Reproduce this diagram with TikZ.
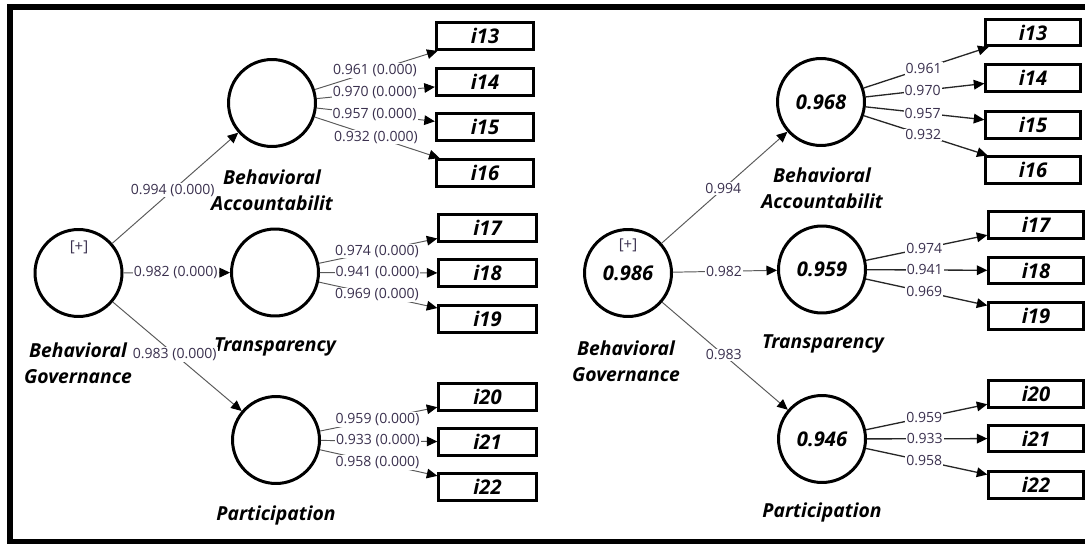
\documentclass[tikz,border=0pt]{standalone}
\usepackage{fontspec}
\setmainfont{Open Sans}
\usetikzlibrary{arrows.meta}
\definecolor{numcol}{RGB}{58,48,78}
\begin{document}
\begin{tikzpicture}[x=0.02cm,y=-0.02cm,
  lv/.style={circle, draw=black, line width=1.7pt, minimum size=49.5pt, inner sep=0pt,
    font=\fontsize{11.5}{13}\selectfont\bfseries\itshape},
  mvl/.style={rectangle, draw=black, line width=1.6pt, minimum width=55.5pt, minimum height=15.4pt,
    inner sep=0pt, font=\fontsize{11.5}{13}\selectfont\bfseries\itshape},
  mvr/.style={mvl, minimum width=53.8pt, minimum height=15pt},
  lvname/.style={align=center, inner sep=0pt, font=\fontsize{11}{14.8}\selectfont\bfseries\itshape},
  plus/.style={inner sep=0pt, text=numcol, font=\fontsize{8.5}{10}\selectfont},
  rel/.style={draw=black!65, line width=0.55pt, -{Triangle[length=6pt,width=5.5pt,color=black]}},
  relr/.style={draw=black!85, line width=0.75pt, -{Triangle[length=6pt,width=5.5pt,color=black]}},
  coef/.style={fill=white, inner sep=0.6pt, text=numcol, font=\fontsize{8}{9}\selectfont},
]
\useasboundingbox (0,0) rectangle (1085,544);
% frame
\draw[line width=3.4pt] (1090,7) -- (10,7) -- (10,542) -- (1090,542);

% ---------------- left model ----------------
\node[lv] (BG) at (78.5,273) {};
\node[plus] (BGp) at (79,247) {[+]};
\node[lv] (BA) at (272,103) {};
\node[lv] (T) at (275,272.5) {};
\node[lv] (P) at (276,440) {};
\node[lvname] (BGn) at (78,363.5) {Behavioral\\Governance};
\node[lvname] (BAn) at (272,190.5) {Behavioral\\Accountabilit};
\node[lvname] (Tn) at (275,347) {Transparency};
\node[lvname] (Pn) at (276,515) {Participation};

\node[mvl] (a13) at (485,36) {i13};
\node[mvl] (a14) at (485,82) {i14};
\node[mvl] (a15) at (485,127) {i15};
\node[mvl] (a16) at (485,173) {i16};
\node[mvl] (a17) at (487.5,228) {i17};
\node[mvl] (a18) at (487.5,273) {i18};
\node[mvl] (a19) at (487.5,319) {i19};
\node[mvl] (a20) at (487.5,397) {i20};
\node[mvl] (a21) at (487.5,442) {i21};
\node[mvl] (a22) at (487.5,487) {i22};

\draw[rel] (BG) -- node[coef,pos=0.48]{0.994 (0.000)} (BA);
\draw[rel] (BG) -- node[coef,pos=0.49]{0.982 (0.000)} (T);
\draw[rel] (BG) -- node[coef,pos=0.48]{0.983 (0.000)} (P);

\draw[rel] (BA) -- node[coef,pos=0.49]{0.961 (0.000)} (a13);
\draw[rel] (BA) -- node[coef,pos=0.49]{0.970 (0.000)} (a14);
\draw[rel] (BA) -- node[coef,pos=0.49]{0.957 (0.000)} (a15);
\draw[rel] (BA) -- node[coef,pos=0.49]{0.932 (0.000)} (a16);
\draw[rel] (T) -- node[coef,pos=0.49]{0.974 (0.000)} (a17);
\draw[rel] (T) -- node[coef,pos=0.49]{0.941 (0.000)} (a18);
\draw[rel] (T) -- node[coef,pos=0.49]{0.969 (0.000)} (a19);
\draw[rel] (P) -- node[coef,pos=0.49]{0.959 (0.000)} (a20);
\draw[rel] (P) -- node[coef,pos=0.49]{0.933 (0.000)} (a21);
\draw[rel] (P) -- node[coef,pos=0.49]{0.958 (0.000)} (a22);

% ---------------- right model ----------------
\node[lv] (BG2) at (628,273) {0.986};
\node[plus] (BG2p) at (628,245) {[+]};
\node[lv] (BA2) at (821,102) {0.968};
\node[lv] (T2) at (822,269.5) {0.959};
\node[lv] (P2) at (822,439) {0.946};
\node[lvname] (BG2n) at (626,361) {Behavioral\\Governance};
\node[lvname] (BA2n) at (822,188.5) {Behavioral\\Accountabilit};
\node[lvname] (T2n) at (823,344) {Transparency};
\node[lvname] (P2n) at (822,512) {Participation};

\node[mvr] (b13) at (1033,32.5) {i13};
\node[mvr] (b14) at (1033,78) {i14};
\node[mvr] (b15) at (1033,125) {i15};
\node[mvr] (b16) at (1033,170) {i16};
\node[mvr] (b17) at (1036,225) {i17};
\node[mvr] (b18) at (1036,270.5) {i18};
\node[mvr] (b19) at (1036,316) {i19};
\node[mvr] (b20) at (1036,394) {i20};
\node[mvr] (b21) at (1036,438.5) {i21};
\node[mvr] (b22) at (1036,485) {i22};

\draw[rel] (BG2) -- node[coef,pos=0.49]{0.994} (BA2);
\draw[rel] (BG2) -- node[coef,pos=0.49]{0.982} (T2);
\draw[rel] (BG2) -- node[coef,pos=0.49]{0.983} (P2);

\draw[relr] (BA2) -- node[coef,pos=0.48]{0.961} (b13);
\draw[relr] (BA2) -- node[coef,pos=0.48]{0.970} (b14);
\draw[relr] (BA2) -- node[coef,pos=0.48]{0.957} (b15);
\draw[relr] (BA2) -- node[coef,pos=0.48]{0.932} (b16);
\draw[relr] (T2) -- node[coef,pos=0.48]{0.974} (b17);
\draw[relr] (T2) -- node[coef,pos=0.48]{0.941} (b18);
\draw[relr] (T2) -- node[coef,pos=0.48]{0.969} (b19);
\draw[relr] (P2) -- node[coef,pos=0.48]{0.959} (b20);
\draw[relr] (P2) -- node[coef,pos=0.48]{0.933} (b21);
\draw[relr] (P2) -- node[coef,pos=0.48]{0.958} (b22);
\end{tikzpicture}
\end{document}
